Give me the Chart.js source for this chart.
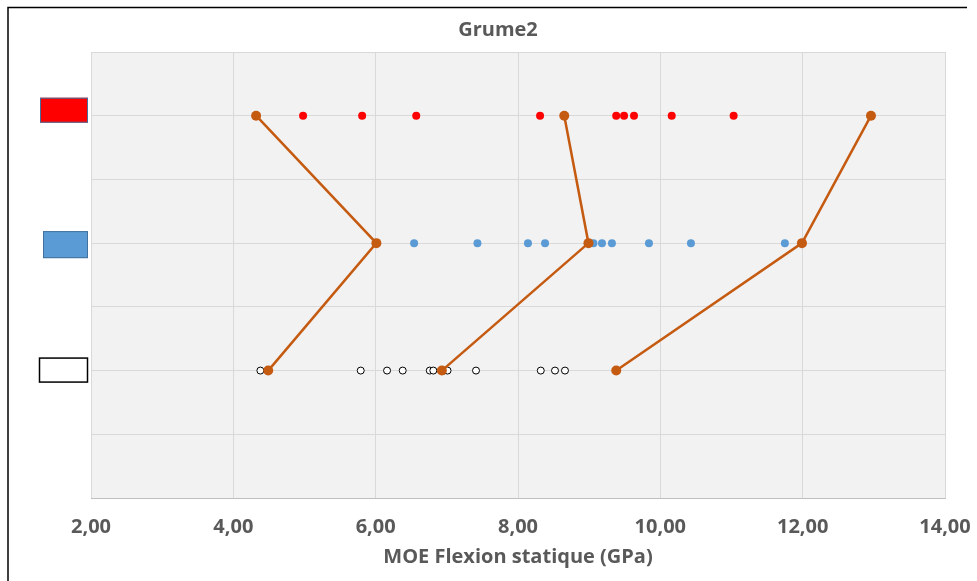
<!DOCTYPE html>
<html>
<head>
<meta charset="utf-8">
<script src="https://cdn.jsdelivr.net/npm/chart.js@4/dist/chart.umd.min.js"></script>
<style>
html,body{margin:0;padding:0;background:#fff;}
#wrap{width:977px;height:581px;position:relative;}
</style>
</head>
<body>
<div id="wrap"><canvas id="c" width="977" height="581"></canvas></div>
<script>
const chartTitle = "Grume2";
const xAxisTitle = "MOE Flexion statique (GPa)";
const xTicks = [2, 4, 6, 8, 10, 12, 14];
const rowY = [6, 4, 2];            // red row, blue row, white row
const redX = [4.98, 5.81, 6.57, 8.31, 9.38, 9.49, 9.63, 10.16, 11.03];
const blueX = [6.54, 7.43, 8.14, 8.38, 9.06, 9.18, 9.32, 9.84, 10.43, 11.75];
const whiteX = [4.38, 5.79, 6.16, 6.38, 6.76, 6.81, 6.96, 7.01, 7.41, 8.32, 8.52, 8.66];
const line1X = [4.32, 6.01, 4.49];
const line2X = [8.65, 8.99, 6.93];
const line3X = [12.96, 11.99, 9.38];

const FONT = "'Open Sans', 'Liberation Sans', sans-serif";
const TXT = "#595959";
const ORANGE = "#c55a11";

function row(xs, y) { return xs.map(x => ({x: x, y: y})); }
function polyline(xs) { return xs.map((x, i) => ({x: x, y: rowY[i]})); }

const framePlugin = {
  id: 'frame',
  beforeDraw(chart) {
    const {ctx, chartArea: a} = chart;
    ctx.save();
    ctx.fillStyle = '#f2f2f2';
    ctx.fillRect(a.left, a.top, a.right - a.left, a.bottom - a.top);
    ctx.restore();
  },
  afterDraw(chart) {
    const {ctx, scales} = chart;
    const ys = scales.y;
    ctx.save();
    ctx.strokeStyle = '#000';
    ctx.lineWidth = 1.5;
    ctx.beginPath();
    ctx.moveTo(8, 581);
    ctx.lineTo(8, 7.5);
    ctx.lineTo(967, 7.5);
    ctx.stroke();
    ctx.fillStyle = TXT;
    ctx.font = "bold 20px " + FONT;
    ctx.textAlign = 'center';
    ctx.textBaseline = 'middle';
    ctx.fillText(chartTitle, 498, 30);
    const sw = [
      {fill: '#ff0000', stroke: '#41719c', lw: 1, l: 40, w: 48, h: 25, dy: -5.5},
      {fill: '#5b9bd5', stroke: '#41719c', lw: 1, l: 43, w: 45, h: 27, dy: 1.5},
      {fill: '#ffffff', stroke: '#000000', lw: 1.5, l: 39, w: 49, h: 25, dy: -0.5}
    ];
    rowY.forEach((v, i) => {
      const s = sw[i];
      const cy = ys.getPixelForValue(v) + s.dy;
      ctx.fillStyle = s.fill;
      ctx.fillRect(s.l, cy - s.h / 2, s.w, s.h);
      ctx.strokeStyle = s.stroke;
      ctx.lineWidth = s.lw;
      ctx.strokeRect(s.l + 0.5, cy - s.h / 2 + 0.5, s.w - 1, s.h - 1);
    });
    ctx.restore();
  }
};

new Chart(document.getElementById('c'), {
  type: 'scatter',
  data: {
    datasets: [
      {data: polyline(line1X), showLine: true, borderColor: ORANGE, backgroundColor: ORANGE, borderWidth: 2.5, pointRadius: 5, pointBorderWidth: 0},
      {data: polyline(line2X), showLine: true, borderColor: ORANGE, backgroundColor: ORANGE, borderWidth: 2.5, pointRadius: 5, pointBorderWidth: 0},
      {data: polyline(line3X), showLine: true, borderColor: ORANGE, backgroundColor: ORANGE, borderWidth: 2.5, pointRadius: 5, pointBorderWidth: 0},
      {data: row(redX, rowY[0]), backgroundColor: '#ff0000', borderColor: '#ff0000', pointRadius: 4, pointBorderWidth: 0},
      {data: row(blueX, rowY[1]), backgroundColor: '#5b9bd5', borderColor: '#5b9bd5', pointRadius: 4, pointBorderWidth: 0},
      {data: row(whiteX, rowY[2]), backgroundColor: '#ffffff', borderColor: '#000000', pointRadius: 3.5, pointBorderWidth: 1}
    ]
  },
  options: {
    responsive: false,
    animation: false,
    layout: {padding: {top: 52, right: 32, left: 0, bottom: 0}},
    plugins: {legend: {display: false}, tooltip: {enabled: false}, title: {display: false}},
    scales: {
      x: {
        type: 'linear', min: xTicks[0], max: xTicks[xTicks.length - 1],
        afterBuildTicks(s) { s.ticks = xTicks.map(v => ({value: v})); },
        afterFit(s) { s.height = 83; s.paddingLeft = 0; s.paddingRight = 0; },
        grid: {color: '#d9d9d9', lineWidth: 1, drawTicks: false},
        border: {display: true, color: '#bfbfbf', width: 1},
        ticks: {
          padding: 17, color: TXT,
          font: {family: FONT, size: 20, weight: 'bold'},
          callback: v => v.toFixed(2).replace('.', ',')
        },
        title: {display: true, text: xAxisTitle, color: TXT, padding: {top: 4, bottom: 12},
          font: {family: FONT, size: 20, weight: 'bold'}}
      },
      y: {
        type: 'linear', min: 0, max: 7,
        ticks: {display: false, stepSize: 1},
        afterFit(s) { s.width = 91; },
        grid: {color: '#d9d9d9', lineWidth: 1, drawTicks: false},
        border: {display: false}
      }
    }
  },
  plugins: [framePlugin]
});
</script>
</body>
</html>
